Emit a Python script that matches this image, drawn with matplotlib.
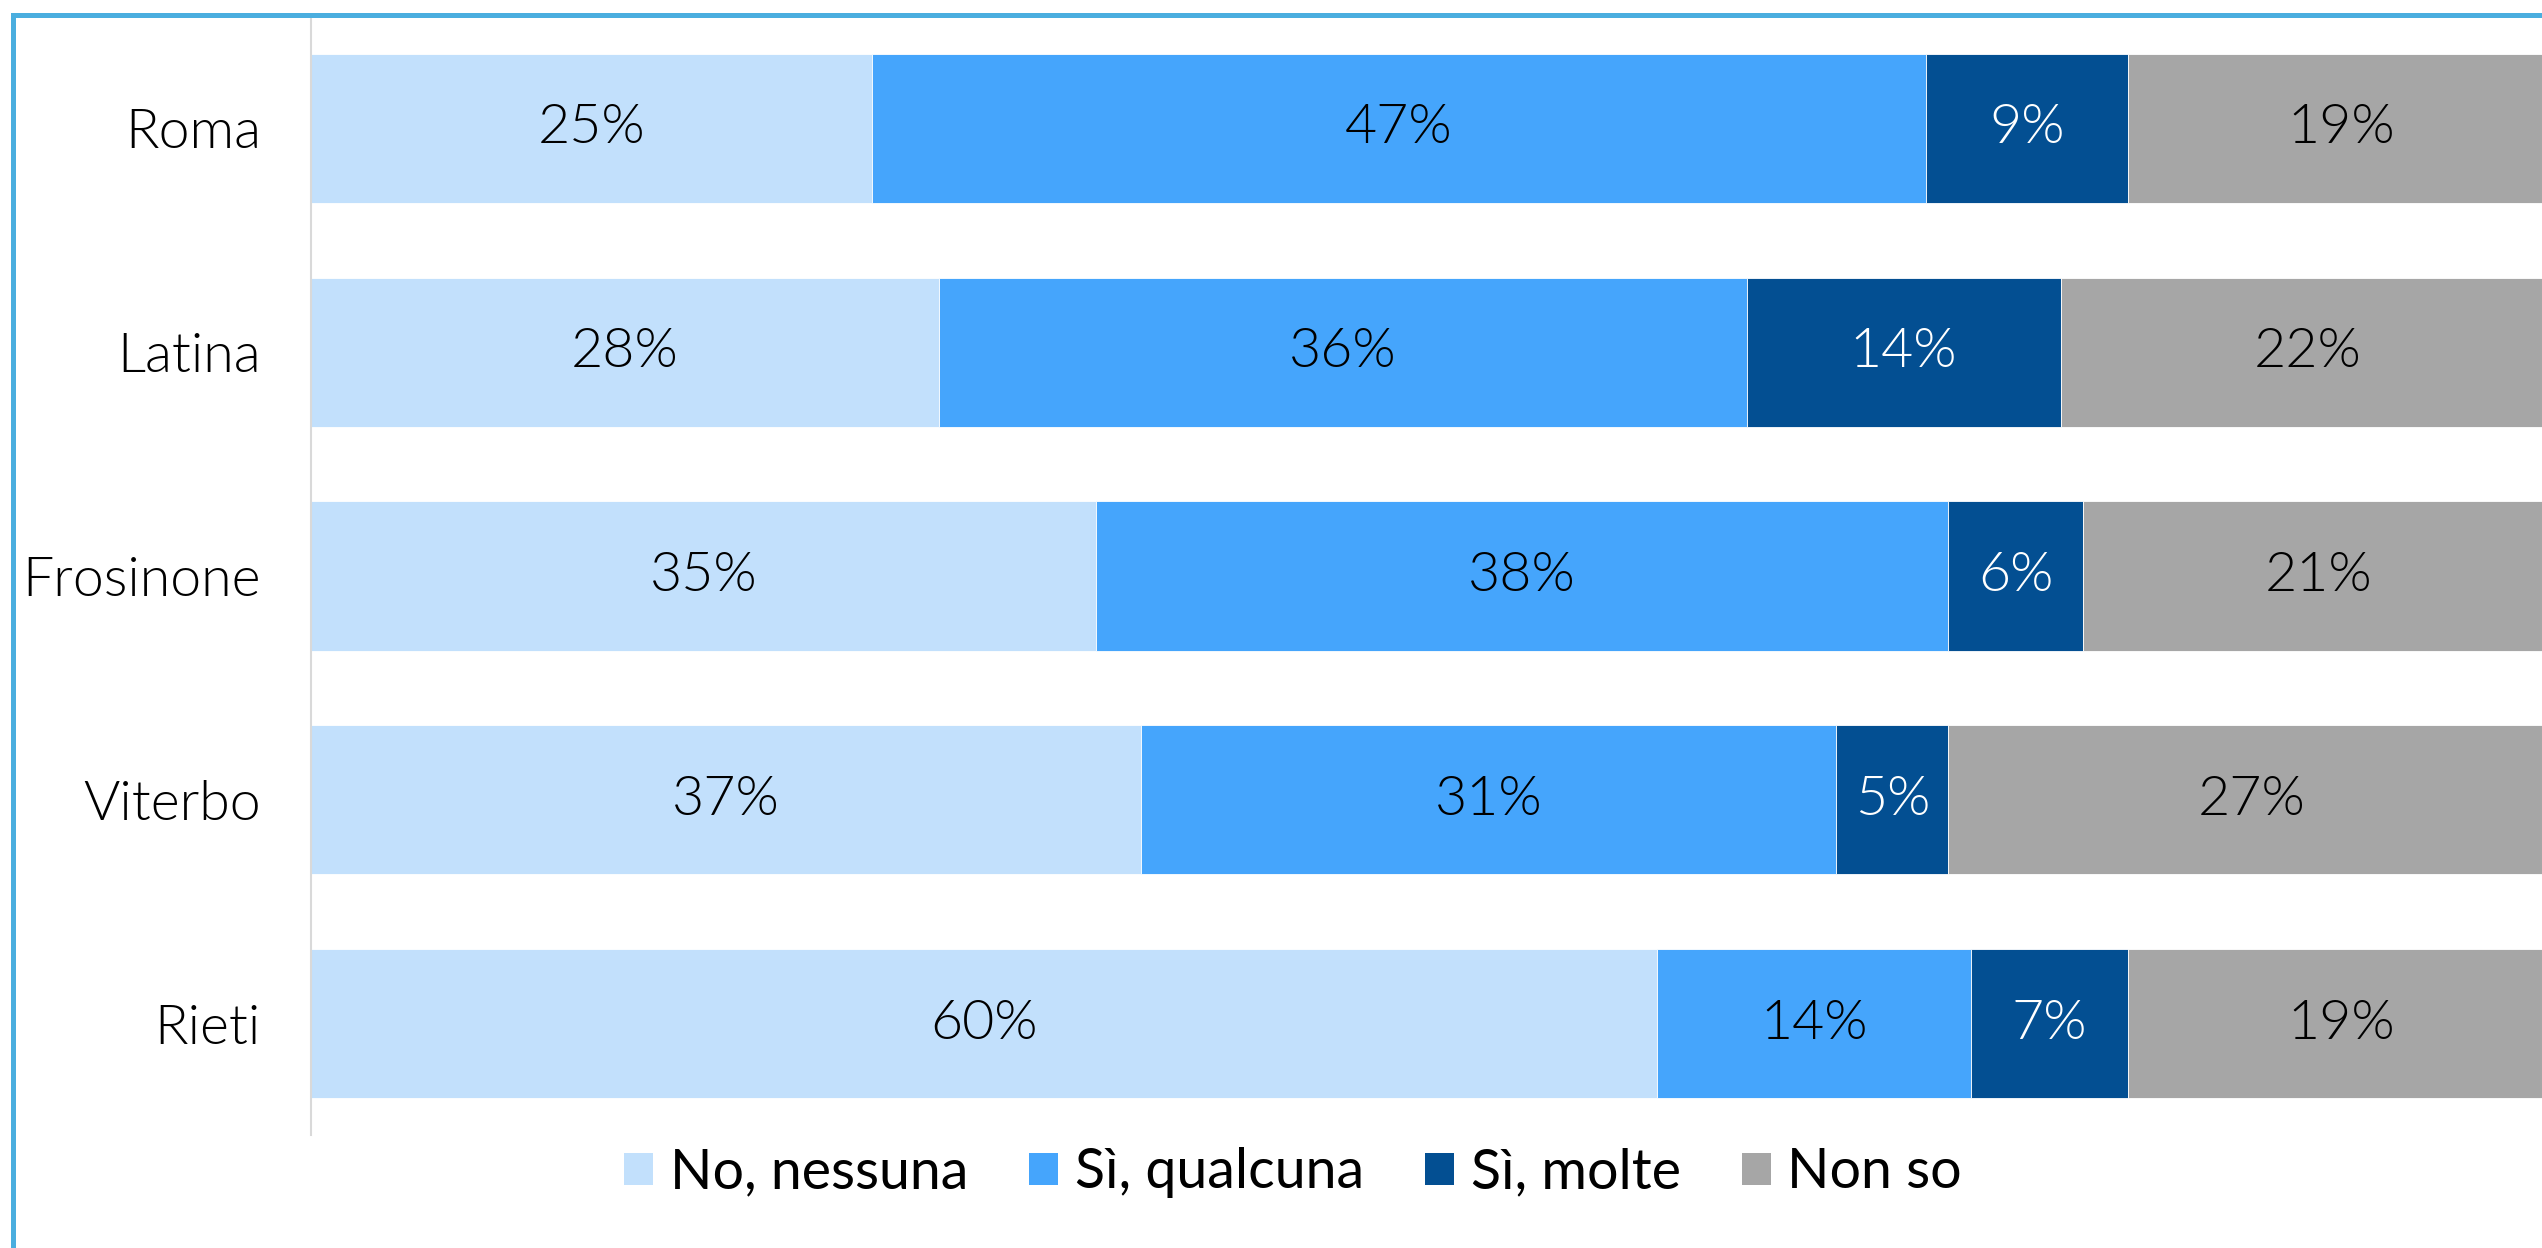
import matplotlib
matplotlib.use("Agg")
import matplotlib.pyplot as plt
from matplotlib.patches import Rectangle, Patch
import numpy as np

categories = ["Roma", "Latina", "Frosinone", "Viterbo", "Rieti"]
series_names = ["No, nessuna", "Sì, qualcuna", "Sì, molte", "Non so"]
no_nessuna = [25, 28, 35, 37, 60]
si_qualcuna = [47, 36, 38, 31, 14]
si_molte = [9, 14, 6, 5, 7]
non_so = [19, 22, 21, 27, 19]

colors = ["#C2E0FC", "#45A5FC", "#034F92", "#A6A6A6"]
text_colors = ["black", "black", "white", "black"]

W, H = 2542, 1248
DPI = 100
fig = plt.figure(figsize=(W / DPI, H / DPI), dpi=DPI)
fam = ["Lato", "DejaVu Sans"]

ax = fig.add_axes([311 / W, 1 - 1135.4 / H, (2554 - 311) / W, (1135.4 - 16.6) / H])

series = [no_nessuna, si_qualcuna, si_molte, non_so]
y = np.arange(len(categories))
left = np.zeros(len(categories))
for vals, c, tc, name in zip(series, colors, text_colors, series_names):
    vals = np.array(vals, dtype=float)
    ax.barh(y, vals, left=left, height=0.666, color=c, label=name,
            edgecolor="white", linewidth=0.6)
    for yi, l, v in zip(y, left, vals):
        ax.text(l + v / 2, yi, f"{int(v)}%", ha="center", va="center",
                color=tc, fontsize=40, family=fam, fontweight=300)
    left += vals

ax.set_xlim(0, 100)
ax.set_ylim(len(categories) - 0.5, -0.5)
ax.set_yticks(y)
ax.set_yticklabels(categories, fontsize=40, family=fam, fontweight=300)
ax.set_xticks([])
ax.tick_params(axis="y", length=0, pad=36)
for s in ["top", "right", "bottom"]:
    ax.spines[s].set_visible(False)
ax.spines["left"].set_color("#D9D9D9")
ax.spines["left"].set_linewidth(1.5)

handles = [Patch(facecolor=c, edgecolor="none") for c in colors]
leg = fig.legend(handles, series_names, loc="center",
                 bbox_to_anchor=(1293 / W, 1 - 1173 / H), ncol=4, frameon=False,
                 prop={"family": fam, "size": 40, "weight": 400},
                 handlelength=0.52, handleheight=0.52, handletextpad=0.3,
                 columnspacing=1.1)

border = Rectangle((12.5 / W, -0.05), 1.1, 1 - 15 / H + 0.05, transform=fig.transFigure,
                   fill=False, edgecolor="#4AAEDF", linewidth=3.6)
fig.patches.append(border)

fig.savefig("out.png", dpi=DPI, facecolor="white")
